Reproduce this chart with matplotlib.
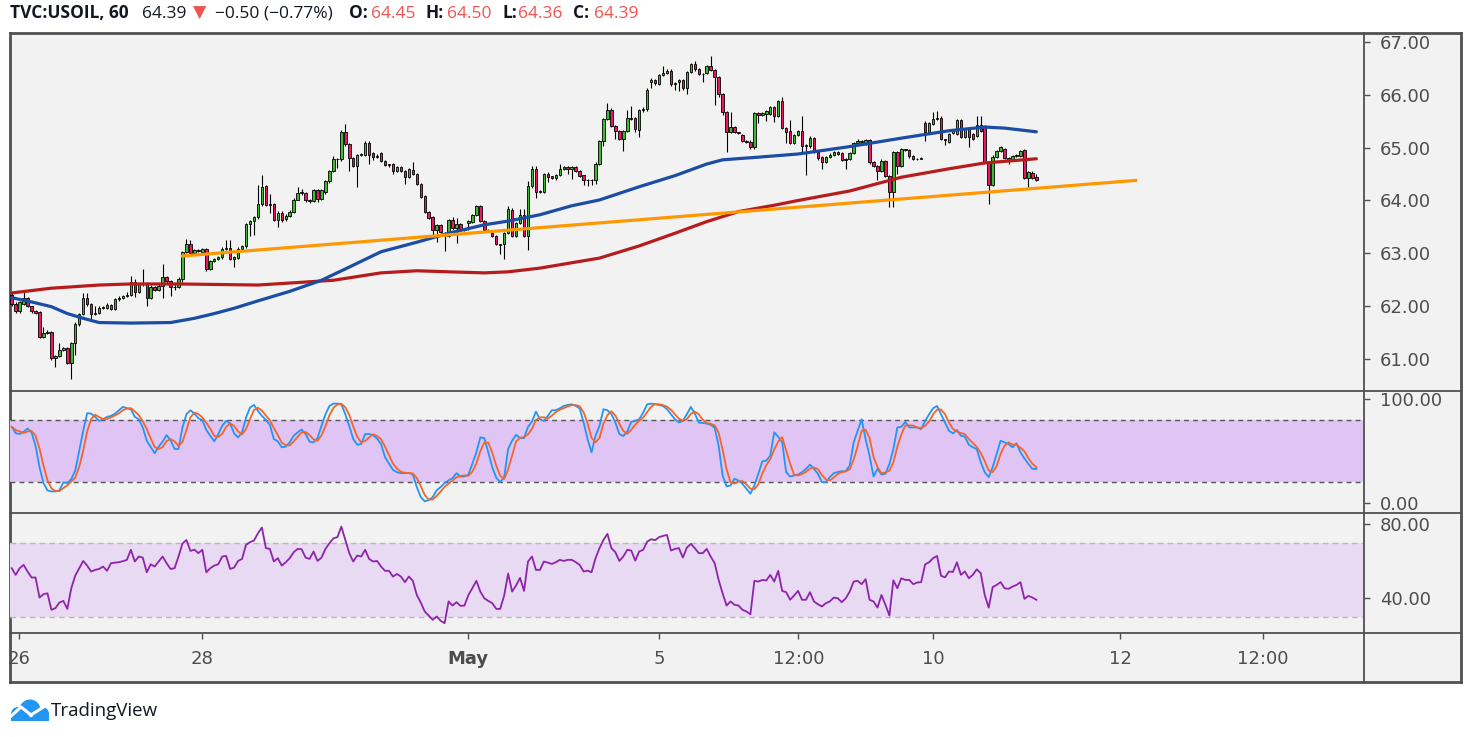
import numpy as np
import pandas as pd
import matplotlib
matplotlib.use("Agg")
import matplotlib.pyplot as plt
from matplotlib.lines import Line2D
from matplotlib.patches import Circle, Rectangle

# ---------------- data (hourly bars, TVC:USOIL) ----------------
opens = [
    62.21, 62.05, 61.90, 62.05, 62.15, 62.00, 61.90, 61.89, 61.42, 61.49,
    61.52, 61.01, 61.05, 61.17, 61.20, 60.93, 61.30, 61.66, 61.86, 62.15,
    62.04, 61.86, 61.88, 61.96, 61.97, 62.03, 61.94, 62.13, 62.16, 62.19,
    62.22, 62.46, 62.27, 62.41, 62.42, 62.15, 62.36, 62.31, 62.39, 62.56,
    62.48, 62.36, 62.37, 62.52, 63.02, 63.18, 63.00, 63.06, 63.03, 63.08,
    62.70, 62.86, 62.89, 62.93, 63.09, 63.11, 62.90, 62.92, 63.09, 63.14,
    63.55, 63.62, 63.68, 63.93, 64.27, 63.92, 63.93, 63.64, 63.77, 63.65,
    63.71, 63.79, 64.01, 64.14, 64.14, 64.00, 63.99, 64.20, 64.03, 64.17,
    64.36, 64.55, 64.78, 64.79, 65.30, 65.06, 64.80, 64.66, 64.86, 64.86,
    65.09, 64.90, 64.83, 64.90, 64.75, 64.68, 64.69, 64.55, 64.63, 64.56,
    64.45, 64.58, 64.50, 64.31, 64.08, 63.79, 63.68, 63.45, 63.54, 63.34,
    63.33, 63.63, 63.47, 63.55, 63.44, 63.58, 63.60, 63.73, 63.90, 63.61,
    63.45, 63.39, 63.33, 63.17, 63.17, 63.38, 63.82, 63.33, 63.57, 63.72,
    63.32, 64.27, 64.60, 64.17, 64.17, 64.50, 64.46, 64.42, 64.48, 64.60,
    64.63, 64.59, 64.63, 64.55, 64.48, 64.39, 64.38, 64.39, 64.70, 65.13,
    65.54, 65.71, 65.41, 65.31, 65.16, 65.32, 65.56, 65.56, 65.34, 65.71,
    65.73, 66.24, 66.28, 66.20, 66.38, 66.42, 66.45, 66.20, 66.24, 66.28,
    66.12, 66.44, 66.58, 66.48, 66.39, 66.41, 66.55, 66.47, 66.33, 66.01,
    65.68, 65.30, 65.39, 65.29, 65.24, 65.13, 65.10, 65.01, 65.65, 65.61,
    65.64, 65.64, 65.76, 65.60, 65.88, 65.37, 65.31, 65.09, 65.24, 65.31,
    65.04, 65.03, 65.19, 64.92, 64.83, 64.73, 64.82, 64.86, 64.91, 64.89,
    64.77, 64.78, 64.90, 65.08, 65.13, 65.08, 65.14, 64.72, 64.66, 64.55,
    64.75, 64.47, 64.17, 64.91, 64.65, 64.97, 64.95, 64.85, 64.78, 64.79,
    65.47, 65.30, 65.44, 65.55, 65.57, 65.16, 65.11, 65.28, 65.26, 65.52,
    65.21, 65.35, 65.25, 65.22, 65.43, 65.40, 64.73, 64.29, 64.83, 64.94,
    64.98, 64.80, 64.77, 64.84, 64.84, 64.95, 64.43, 64.52, 64.45,
]
highs = [
    62.25, 62.07, 62.10, 62.27, 62.17, 62.01, 61.93, 61.90, 61.60, 61.54,
    61.53, 61.08, 61.30, 61.22, 61.22, 61.33, 61.70, 61.88, 62.24, 62.24,
    62.06, 62.00, 62.00, 62.00, 62.06, 62.05, 62.15, 62.20, 62.22, 62.26,
    62.57, 62.51, 62.44, 62.70, 62.45, 62.40, 62.38, 62.42, 62.79, 62.58,
    62.50, 62.42, 62.55, 63.05, 63.27, 63.26, 63.08, 63.08, 63.10, 63.10,
    62.88, 62.91, 62.95, 63.12, 63.25, 63.25, 62.95, 63.12, 63.16, 63.58,
    63.64, 63.70, 64.29, 64.48, 64.30, 64.13, 63.95, 63.80, 63.80, 63.74,
    63.82, 64.04, 64.25, 64.22, 64.16, 64.02, 64.22, 64.22, 64.21, 64.38,
    64.58, 64.85, 64.81, 65.33, 65.45, 65.08, 64.82, 64.88, 64.90, 65.12,
    65.12, 64.92, 64.88, 64.92, 64.77, 64.69, 64.71, 64.65, 64.65, 64.58,
    64.61, 64.72, 64.52, 64.33, 64.10, 63.80, 63.70, 63.56, 63.56, 63.40,
    63.65, 63.69, 63.66, 63.57, 63.46, 63.63, 63.75, 63.92, 63.92, 63.63,
    63.46, 63.40, 63.35, 63.18, 63.40, 63.90, 63.86, 63.60, 63.84, 63.84,
    64.36, 64.65, 64.65, 64.20, 64.52, 64.53, 64.47, 64.50, 64.70, 64.66,
    64.66, 64.66, 64.65, 64.57, 64.49, 64.41, 64.41, 64.72, 65.15, 65.57,
    65.84, 65.75, 65.43, 65.33, 65.34, 65.71, 65.78, 65.58, 65.74, 65.76,
    66.13, 66.31, 66.30, 66.40, 66.55, 66.48, 66.48, 66.25, 66.30, 66.30,
    66.46, 66.60, 66.64, 66.50, 66.41, 66.57, 66.73, 66.49, 66.35, 66.03,
    65.70, 65.68, 65.41, 65.30, 65.26, 65.14, 65.14, 65.67, 65.67, 65.68,
    65.72, 65.78, 65.78, 65.90, 65.96, 65.39, 65.52, 65.26, 65.33, 65.60,
    65.06, 65.22, 65.21, 64.94, 64.85, 64.84, 64.90, 64.93, 64.93, 64.91,
    64.80, 64.92, 65.10, 65.17, 65.14, 65.16, 65.16, 64.74, 64.68, 64.78,
    64.77, 64.49, 64.94, 64.93, 65.00, 64.98, 64.97, 64.87, 64.81, 64.82,
    65.50, 65.48, 65.68, 65.70, 65.59, 65.17, 65.28, 65.33, 65.54, 65.54,
    65.37, 65.37, 65.27, 65.60, 65.60, 65.42, 64.75, 64.86, 64.96, 65.03,
    65.00, 64.82, 64.86, 64.88, 64.96, 64.97, 64.55, 64.55, 64.50,
]
lows = [
    62.00, 61.87, 61.88, 62.03, 61.98, 61.88, 61.85, 61.39, 61.40, 61.47,
    60.98, 60.84, 61.03, 61.15, 60.90, 60.63, 61.07, 61.63, 61.84, 62.00,
    61.71, 61.84, 61.85, 61.94, 61.95, 61.92, 61.92, 62.10, 62.14, 62.17,
    62.20, 62.18, 62.25, 62.38, 62.01, 62.13, 62.29, 62.28, 62.15, 62.44,
    62.19, 62.30, 62.35, 62.45, 63.00, 62.98, 62.99, 63.02, 63.00, 62.66,
    62.68, 62.84, 62.87, 62.90, 63.07, 62.88, 62.75, 62.90, 63.08, 63.10,
    63.32, 63.35, 63.65, 63.90, 63.90, 63.76, 63.62, 63.50, 63.60, 63.62,
    63.68, 63.77, 64.00, 64.10, 63.97, 63.96, 63.97, 63.98, 64.00, 64.12,
    64.33, 64.53, 64.61, 64.75, 65.04, 64.55, 64.64, 64.26, 64.84, 64.84,
    64.70, 64.76, 64.80, 64.73, 64.66, 64.64, 64.50, 64.53, 64.53, 64.31,
    64.43, 64.48, 64.29, 64.05, 63.76, 63.65, 63.31, 63.22, 63.38, 63.05,
    63.31, 63.45, 63.19, 63.42, 63.42, 63.44, 63.58, 63.70, 63.59, 63.43,
    63.41, 63.31, 63.15, 62.98, 62.89, 63.36, 63.30, 63.31, 63.55, 63.30,
    63.06, 64.24, 64.04, 64.15, 64.15, 64.35, 64.40, 64.38, 64.46, 64.58,
    64.50, 64.40, 64.53, 64.44, 64.29, 64.28, 64.30, 64.31, 64.68, 65.04,
    65.52, 65.39, 65.16, 65.14, 64.94, 65.30, 65.52, 65.30, 65.20, 65.68,
    65.70, 66.12, 66.18, 66.18, 66.36, 66.40, 66.17, 66.10, 66.07, 66.10,
    66.01, 66.42, 66.46, 66.37, 66.25, 66.39, 66.45, 65.81, 65.95, 65.62,
    64.91, 65.28, 65.27, 65.26, 65.11, 65.08, 64.98, 64.98, 65.47, 65.59,
    65.50, 65.62, 65.48, 65.58, 65.35, 65.08, 65.07, 65.07, 65.22, 64.89,
    64.48, 65.00, 64.90, 64.76, 64.60, 64.71, 64.80, 64.84, 64.86, 64.75,
    64.60, 64.76, 64.88, 65.06, 65.08, 65.05, 64.70, 64.64, 64.38, 64.53,
    64.45, 63.88, 63.88, 64.51, 64.63, 64.93, 64.80, 64.76, 64.77, 64.78,
    65.13, 65.28, 65.42, 65.53, 65.14, 65.05, 65.09, 65.26, 65.24, 65.19,
    65.19, 65.02, 65.14, 65.20, 65.30, 64.71, 63.93, 64.27, 64.81, 64.92,
    64.78, 64.70, 64.75, 64.82, 64.82, 64.40, 64.26, 64.41, 64.36,
]
closes = [
    62.05, 61.90, 62.07, 62.15, 62.00, 61.90, 61.88, 61.42, 61.49, 61.52,
    61.01, 61.05, 61.17, 61.20, 60.93, 61.30, 61.66, 61.86, 62.15, 62.04,
    61.86, 61.88, 61.96, 61.98, 62.03, 61.94, 62.13, 62.16, 62.19, 62.22,
    62.46, 62.27, 62.41, 62.43, 62.15, 62.36, 62.31, 62.39, 62.56, 62.48,
    62.36, 62.37, 62.52, 63.03, 63.18, 63.00, 63.06, 63.04, 63.08, 62.70,
    62.86, 62.89, 62.93, 63.09, 63.11, 62.90, 62.93, 63.09, 63.14, 63.55,
    63.62, 63.68, 63.93, 64.25, 63.92, 63.93, 63.64, 63.77, 63.63, 63.71,
    63.79, 64.01, 64.14, 64.16, 64.00, 63.99, 64.20, 64.03, 64.19, 64.36,
    64.55, 64.78, 64.79, 65.30, 65.06, 64.81, 64.66, 64.86, 64.87, 65.09,
    64.87, 64.83, 64.85, 64.75, 64.68, 64.67, 64.56, 64.63, 64.55, 64.45,
    64.59, 64.50, 64.31, 64.07, 63.78, 63.67, 63.45, 63.54, 63.40, 63.38,
    63.63, 63.47, 63.55, 63.44, 63.44, 63.61, 63.73, 63.90, 63.61, 63.45,
    63.43, 63.33, 63.17, 63.16, 63.38, 63.84, 63.33, 63.57, 63.72, 63.32,
    64.27, 64.60, 64.17, 64.18, 64.50, 64.45, 64.42, 64.48, 64.60, 64.63,
    64.59, 64.63, 64.55, 64.46, 64.39, 64.38, 64.39, 64.70, 65.13, 65.54,
    65.71, 65.41, 65.31, 65.16, 65.32, 65.56, 65.55, 65.35, 65.71, 65.73,
    66.10, 66.28, 66.22, 66.38, 66.42, 66.45, 66.20, 66.22, 66.28, 66.12,
    66.44, 66.58, 66.48, 66.39, 66.40, 66.55, 66.47, 66.33, 66.01, 65.68,
    65.30, 65.39, 65.29, 65.28, 65.13, 65.11, 65.01, 65.65, 65.61, 65.66,
    65.70, 65.76, 65.60, 65.88, 65.37, 65.30, 65.09, 65.24, 65.31, 65.04,
    65.03, 65.19, 64.92, 64.81, 64.73, 64.82, 64.87, 64.91, 64.88, 64.77,
    64.78, 64.90, 65.08, 65.13, 65.11, 65.14, 64.72, 64.66, 64.55, 64.75,
    64.47, 64.17, 64.91, 64.65, 64.97, 64.95, 64.85, 64.78, 64.79, 64.80,
    65.30, 65.46, 65.54, 65.57, 65.16, 65.14, 65.26, 65.31, 65.52, 65.21,
    65.35, 65.21, 65.16, 65.43, 65.32, 64.73, 64.29, 64.83, 64.94, 65.01,
    64.80, 64.77, 64.84, 64.86, 64.94, 64.43, 64.53, 64.43, 64.39,
]

# moving averages (bar index, price) sampled along the drawn lines
ma_blue_idx = [0, 5, 10, 14, 18, 22, 30, 40, 46, 51, 56, 62, 70, 78, 85, 93, 102, 110,
               119, 125, 133, 141, 148, 158, 167, 175, 179, 188, 198, 211, 224, 236, 245,
               250, 258]
ma_blue_val = [62.16, 62.08, 61.99, 61.86, 61.77, 61.69, 61.68, 61.69, 61.77, 61.86, 61.96,
               62.10, 62.28, 62.49, 62.74, 63.03, 63.21, 63.38, 63.54, 63.61, 63.73, 63.90,
               64.01, 64.26, 64.47, 64.69, 64.77, 64.82, 64.88, 65.02, 65.18, 65.32, 65.39,
               65.37, 65.30]
ma_red_idx = [0, 10, 22, 30, 42, 62, 81, 93, 102, 110, 119, 125, 133, 148, 158, 167, 175,
              183, 192, 198, 211, 224, 236, 245, 258]
ma_red_val = [62.25, 62.34, 62.40, 62.42, 62.42, 62.40, 62.49, 62.63, 62.67, 62.65, 62.63,
              62.65, 62.72, 62.91, 63.14, 63.38, 63.60, 63.79, 63.91, 64.00, 64.18, 64.44,
              64.60, 64.71, 64.79]
trend_idx = [43, 283]
trend_val = [62.95, 64.38]

# stochastic %K (per bar)
stoch_k = [
    73.3, 67.3, 66.4, 68.6, 71.7, 67.9, 55.2, 34.6, 19.4, 12.4,
    11.4, 11.4, 12.4, 20.0, 19.4, 23.2, 31.4, 50.5, 69.5, 86.4,
    86.0, 82.9, 79.0, 80.6, 82.9, 83.8, 86.0, 89.2, 92.4, 91.1,
    90.2, 82.9, 80.6, 72.7, 60.0, 54.0, 48.0, 54.3, 59.1, 65.4,
    60.6, 52.1, 52.1, 72.7, 85.4, 89.2, 86.0, 81.6, 79.7, 70.2,
    64.8, 59.4, 66.4, 74.3, 79.0, 76.5, 67.0, 63.2, 67.9, 82.2,
    91.8, 94.3, 88.6, 83.8, 80.0, 75.2, 61.6, 59.4, 53.7, 54.3,
    58.4, 64.8, 68.0, 70.8, 66.4, 59.1, 58.4, 62.5, 74.3, 85.4,
    93.3, 95.6, 95.6, 94.9, 85.4, 74.0, 61.6, 56.2, 56.8, 66.4,
    66.4, 65.4, 62.0, 56.8, 44.1, 38.0, 32.1, 29.8, 29.0, 28.9,
    29.2, 27.6, 15.6, 6.0, 1.9, 3.0, 6.0, 12.4, 15.6, 19.4,
    22.0, 24.1, 28.9, 25.7, 25.7, 27.6, 38.0, 48.9, 63.2, 62.5,
    48.9, 34.6, 24.5, 20.3, 25.1, 52.1, 60.0, 65.7, 62.5, 62.5,
    73.3, 78.4, 87.9, 80.6, 79.0, 83.8, 89.2, 89.2, 91.1, 93.3,
    94.3, 94.9, 93.3, 91.1, 77.5, 61.6, 48.9, 64.8, 74.3, 90.2,
    89.2, 85.4, 77.5, 66.4, 64.5, 68.9, 78.1, 79.0, 80.6, 87.0,
    94.9, 95.6, 94.9, 94.3, 93.3, 90.2, 85.4, 80.6, 77.5, 79.0,
    85.4, 92.4, 86.0, 77.5, 77.0, 76.5, 75.2, 72.4, 55.2, 26.7,
    16.2, 17.1, 23.5, 21.9, 18.7, 14.0, 9.2, 17.1, 28.3, 40.3,
    41.0, 45.7, 68.1, 63.8, 58.4, 29.8, 25.7, 26.7, 27.6, 29.8,
    33.0, 37.1, 33.0, 28.3, 20.3, 20.3, 25.1, 28.9, 30.0, 30.8,
    30.8, 36.2, 58.4, 69.5, 80.6, 61.6, 45.7, 25.7, 33.0, 27.6,
    28.3, 37.8, 52.1, 72.7, 73.3, 78.1, 72.7, 72.7, 72.7, 71.1,
    79.0, 85.4, 91.1, 93.3, 85.4, 77.5, 69.5, 67.0, 70.2, 64.8,
    63.8, 56.2, 53.7, 52.1, 39.4, 29.8, 25.1, 34.6, 47.3, 60.0,
    58.4, 56.8, 53.7, 57.5, 48.9, 43.0, 37.8, 33.0, 33.0,
]

# RSI (per bar)
rsi = [
    56.2, 52.6, 56.2, 58.0, 54.4, 51.2, 51.2, 40.4, 42.2, 42.7,
    33.8, 34.7, 37.7, 38.6, 34.3, 45.4, 52.2, 56.2, 60.1, 57.6,
    54.4, 55.3, 55.8, 57.1, 54.8, 58.9, 59.2, 59.4, 60.0, 60.7,
    66.1, 59.8, 62.5, 61.9, 54.0, 58.3, 57.1, 59.8, 62.5, 58.9,
    55.8, 56.2, 62.5, 69.5, 71.4, 65.5, 66.2, 64.3, 66.1, 54.0,
    56.2, 57.6, 58.3, 62.5, 62.8, 55.8, 56.5, 60.1, 61.2, 68.8,
    70.2, 71.1, 75.0, 78.1, 67.0, 66.6, 59.8, 61.6, 57.6, 59.4,
    61.6, 64.8, 66.6, 66.4, 61.9, 61.2, 65.2, 60.1, 61.9, 66.6,
    69.6, 72.3, 72.9, 78.6, 71.4, 64.3, 59.8, 63.0, 62.5, 66.1,
    61.2, 59.8, 60.1, 57.1, 54.8, 54.8, 51.7, 53.1, 51.7, 48.7,
    51.7, 49.4, 41.8, 37.7, 32.9, 30.7, 28.4, 30.2, 27.9, 26.6,
    38.3, 36.1, 37.9, 35.9, 36.1, 41.8, 45.5, 49.4, 43.6, 40.0,
    38.6, 37.4, 34.3, 34.3, 41.5, 53.3, 43.6, 46.9, 51.0, 44.0,
    59.8, 62.5, 55.3, 55.3, 59.8, 59.2, 58.5, 59.4, 60.7, 60.1,
    60.7, 60.7, 59.5, 58.0, 54.4, 54.9, 54.0, 61.6, 67.0, 71.4,
    74.7, 67.0, 64.8, 60.1, 62.5, 66.1, 65.7, 60.3, 65.2, 66.1,
    70.5, 71.8, 71.3, 72.9, 73.6, 74.1, 65.7, 66.6, 67.0, 61.9,
    67.3, 69.3, 67.0, 64.3, 64.3, 66.6, 62.5, 58.9, 49.9, 42.7,
    36.1, 38.3, 36.5, 36.1, 33.8, 32.9, 31.4, 49.4, 49.0, 49.9,
    49.6, 52.6, 49.0, 54.8, 44.0, 43.3, 39.2, 41.5, 44.0, 39.2,
    39.2, 43.3, 38.3, 36.8, 35.6, 37.4, 38.3, 40.4, 40.0, 37.9,
    40.0, 43.6, 49.0, 49.4, 47.6, 50.3, 39.2, 38.3, 35.0, 41.8,
    36.5, 30.7, 49.7, 45.4, 50.8, 49.9, 49.9, 47.6, 48.5, 48.7,
    58.3, 59.4, 61.6, 62.8, 52.1, 51.3, 54.4, 54.2, 59.4, 52.6,
    54.4, 50.8, 52.6, 55.6, 53.5, 41.8, 35.0, 46.0, 47.2, 48.7,
    45.4, 45.1, 46.3, 47.2, 48.7, 39.7, 41.3, 40.4, 39.2,
]

# time axis
time_tick_idx = [1.84, 47.93, 114.9, 163.0, 198.1, 232.1, 279.1, 315.1]
time_tick_lbl = ['26', '28', 'May', '5', '12:00', '10', '12', '12:00']
price_ticks = [61, 62, 63, 64, 65, 66, 67]

# ---------------- styling ----------------
W, H = 1471, 737
BG = '#f2f2f2'
FRAME = '#505050'
TXT = '#4d4d4d'
GREEN = '#3fb92f'
RED = '#e8195f'
UI_RED = '#ef5350'
DARK = '#131722'


def box(x0, y0, x1, y1):
    return [x0 / W, 1 - y1 / H, (x1 - x0) / W, (y1 - y0) / H]


def hline(y, x0=10, x1=1461, lw=1.3):
    fig.add_artist(Line2D([x0 / W, x1 / W], [1 - y / H, 1 - y / H],
                          transform=fig.transFigure, color=FRAME, lw=lw))


fig = plt.figure(figsize=(W / 100, H / 100), dpi=100, facecolor='white')

frame = fig.add_axes(box(10, 33, 1461, 682))
frame.set_facecolor(BG)
frame.set_xticks([])
frame.set_yticks([])
for s in frame.spines.values():
    s.set_color(FRAME)
    s.set_linewidth(2)
frame.set_zorder(0)

ax_p = fig.add_axes(box(10, 33, 1364, 390.7))
ax_s = fig.add_axes(box(10, 390.7, 1364, 512.7))
ax_r = fig.add_axes(box(10, 512.7, 1364, 633.3))

for ax in (ax_p, ax_s, ax_r):
    ax.set_zorder(1)
    ax.set_facecolor('none')
    for s in ax.spines.values():
        s.set_visible(False)
    ax.set_xlim(-0.43, 340.5)
    ax.yaxis.tick_right()
    ax.tick_params(axis='y', direction='out', length=4.5, width=1, color=FRAME,
                   labelcolor=TXT, labelsize=13, pad=7)
    ax.tick_params(axis='x', length=0, labelbottom=False)

# separators
fig.add_artist(Line2D([1364 / W, 1364 / W], [1 - 33 / H, 1 - 682 / H],
                      transform=fig.transFigure, color=FRAME, lw=1.3))
hline(390.7)
hline(512.7)
hline(633.3)

# ---------------- price panel ----------------
x = np.arange(len(closes))
o = np.array(opens)
c = np.array(closes)
colors = np.where(c >= o, GREEN, RED)
ax_p.vlines(x, lows, highs, color='black', lw=0.8, zorder=2)
body = np.maximum(np.abs(c - o), 0.012)
ax_p.bar(x, body, bottom=np.minimum(o, c), width=0.62, color=colors,
         edgecolor='black', linewidth=0.6, zorder=3)
ax_p.plot(ma_red_idx, ma_red_val, color='#b71c1c', lw=2.3, zorder=4,
          solid_capstyle='round', solid_joinstyle='round')
ax_p.plot(ma_blue_idx, ma_blue_val, color='#1a4da3', lw=2.3, zorder=4,
          solid_capstyle='round', solid_joinstyle='round')
ax_p.plot(trend_idx, trend_val, color='#ff9800', lw=2.3, zorder=5)
ax_p.set_ylim(60.40, 67.17)
ax_p.set_yticks(price_ticks, [f'{v:.2f}' for v in price_ticks])

# ---------------- stochastic panel ----------------
k = pd.Series(stoch_k)
d = k.rolling(3, min_periods=1).mean()
ax_s.set_ylim(-9.0, 107.96)
ax_s.axhspan(20, 80, color='#e0c4f4', lw=0, zorder=0)
ax_s.axhline(80, color='#555555', lw=1, ls=(0, (3.5, 3)), zorder=1)
ax_s.axhline(20, color='#555555', lw=1, ls=(0, (3.5, 3)), zorder=1)
ax_s.plot(x, k, color='#2196f3', lw=1.3, zorder=3)
ax_s.plot(x, d, color='#f4652a', lw=1.3, zorder=3)
ax_s.set_yticks([0, 100], ['0.00', '100.00'])

# ---------------- RSI panel ----------------
ax_r.set_ylim(21.16, 86.08)
ax_r.axhspan(30, 70, color='#e9daf3', lw=0, zorder=0)
ax_r.axhline(70, color='#b8b8b8', lw=1, ls=(0, (4, 3)), zorder=1)
ax_r.axhline(30, color='#b8b8b8', lw=1, ls=(0, (4, 3)), zorder=1)
ax_r.plot(x, rsi, color='#8e24aa', lw=1.3, zorder=3)
ax_r.set_yticks([40, 80], ['40.00', '80.00'])

ax_r.set_xticks(time_tick_idx, time_tick_lbl)
ax_r.tick_params(axis='x', direction='out', length=4, width=1, color=FRAME,
                 labelcolor=TXT, labelsize=13, pad=8, labelbottom=True)
for lab in ax_r.get_xticklabels():
    if lab.get_text() == 'May':
        lab.set_fontweight('bold')

# ---------------- header ----------------
hy = 1 - 18 / H
hfont = ['Open Sans', 'DejaVu Sans']
pieces = [
    ('TVC:USOIL, 60', 9.5, 'bold', DARK),
    ('64.39', 142, 'normal', DARK),
    ('\u25bc', 193, 'normal', UI_RED),
    ('\u22120.50 (\u22120.77%)', 215, 'normal', DARK),
    ('O:', 349, 'bold', DARK),
    ('64.45', 371, 'normal', UI_RED),
    ('H:', 426, 'bold', DARK),
    ('64.50', 447, 'normal', UI_RED),
    ('L:', 502, 'bold', DARK),
    ('64.36', 518, 'normal', UI_RED),
    ('C:', 573, 'bold', DARK),
    ('64.39', 594, 'normal', UI_RED),
]
for text, px, weight, col in pieces:
    fig.text(px / W, hy, text, fontsize=12.5, fontweight=weight, color=col,
             family=hfont, ha='left', va='baseline')

# ---------------- footer / logo ----------------
logo = fig.add_axes(box(9, 698, 49, 722))
logo.set_xlim(0, 40)
logo.set_ylim(0, 24)
logo.axis('off')
blue = '#2196f3'
for cx, cy, r in [(9, 8, 7), (21, 12, 10.5), (33, 8, 7)]:
    logo.add_patch(Circle((cx, cy), r, color=blue, lw=0))
logo.add_patch(Rectangle((2, 1), 38, 7, color=blue, lw=0))
logo.plot([1, 12, 22, 36], [5, 15, 7, 16], color='white', lw=2.2,
          solid_capstyle='round')
logo.add_patch(Circle((22, 7), 2.2, color='white', lw=0))
fig.text(51 / W, 1 - 716 / H, 'TradingView', fontsize=13.5, color=DARK,
         family=['Open Sans', 'DejaVu Sans'], ha='left', va='baseline')

fig.savefig('out.png', dpi=100, facecolor='white')
